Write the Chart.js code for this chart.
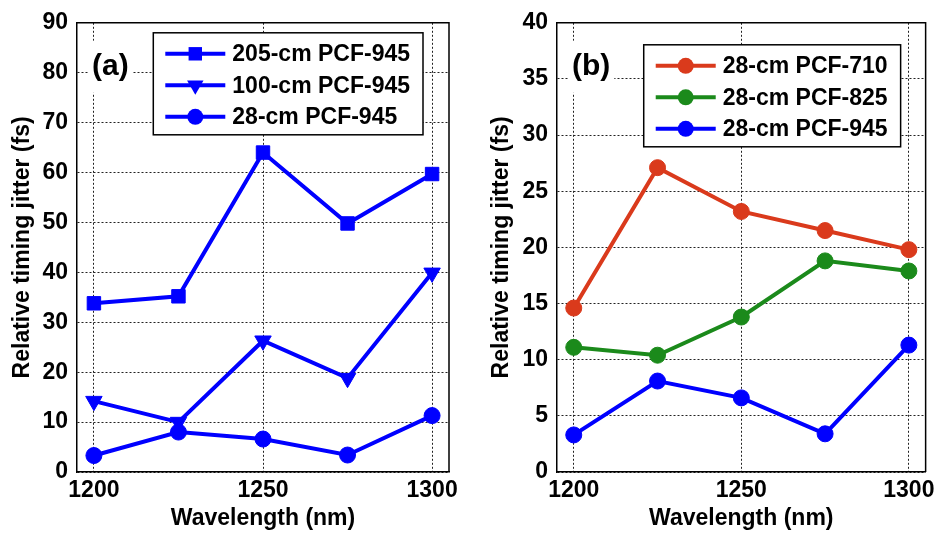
<!DOCTYPE html>
<html>
<head>
<meta charset="utf-8">
<script src="https://cdn.jsdelivr.net/npm/chart.js@4.4.1/dist/chart.umd.min.js"></script>
<style>
  html, body { margin: 0; padding: 0; background: #fff; }
  .wrap { position: relative; width: 940px; height: 536px; }
  canvas { position: absolute; top: 0; }
  #chartA { left: 0; }
  #chartB { left: 470px; }
</style>
</head>
<body>
<div class="wrap">
  <canvas id="chartA" width="470" height="536"></canvas>
  <canvas id="chartB" width="470" height="536"></canvas>
</div>
<script>
// ==================== ДАННЫЕ ====================
const wavelengths = [1200, 1225, 1250, 1275, 1300];
const xTicks = [1200, 1250, 1300];
const yTicksA = [0, 10, 20, 30, 40, 50, 60, 70, 80, 90];
const yTicksB = [0, 5, 10, 15, 20, 25, 30, 35, 40];

// panel (a)
const jitter205cm945 = [33.8, 35.2, 64.0, 49.8, 59.7];
const jitter100cm945 = [14.2, 10.0, 26.3, 18.8, 39.9];
const jitter28cm945 = [3.3, 8.0, 6.6, 3.4, 11.3];

// panel (b)
const jitter28cm710 = [14.6, 27.1, 23.2, 21.5, 19.8];
const jitter28cm825 = [11.1, 10.4, 13.8, 18.8, 17.9];
const jitter28cm945b = [3.3, 8.1, 6.6, 3.4, 11.3];

const FONT = 'Liberation Sans, Arial, Helvetica, sans-serif';
const BLUE = '#0000ff';
const RED = '#da3a1c';
const GREEN = '#1b8a1b';

function toPoints(values) {
    return wavelengths.map((w, i) => ({ x: w, y: values[i] }));
}

function series(label, values, color, pointStyle, radius, rotation) {
    return {
        label: label,
        data: toPoints(values),
        borderColor: color,
        backgroundColor: color,
        borderWidth: 4,
        pointStyle: pointStyle,
        pointRadius: radius,
        pointRotation: rotation || 0,
        pointBorderWidth: 1,
        pointBackgroundColor: color,
        pointBorderColor: color,
        tension: 0
    };
}

/**
 * Маркер для легенды (круг, квадрат, треугольник)
 */
function drawMarker(ctx, style, rotation, r, x, y) {
    ctx.beginPath();
    if (style === 'rect') {
        const s = Math.SQRT1_2 * r;
        ctx.rect(x - s, y - s, 2 * s, 2 * s);
    } else if (style === 'triangle') {
        let a = rotation * Math.PI / 180;
        for (let k = 0; k < 3; k++) {
            const px = x + Math.sin(a) * r;
            const py = y - Math.cos(a) * r;
            if (k === 0) ctx.moveTo(px, py); else ctx.lineTo(px, py);
            a += 2 * Math.PI / 3;
        }
        ctx.closePath();
    } else {
        ctx.arc(x, y, r, 0, Math.PI * 2);
    }
    ctx.fill();
}

// рамка, метка панели и легенда в поле графика
const panelDecor = {
    id: 'panelDecor',
    beforeDatasetsDraw(chart, args, opts) {
        const { ctx, chartArea: a } = chart;
        ctx.save();
        ctx.font = `bold 30px ${FONT}`;
        const tw = ctx.measureText(opts.tag).width;
        ctx.fillStyle = '#fff';
        ctx.fillRect(a.left + 11, a.top + 18, tw + 8, 52);
        ctx.fillStyle = '#000';
        ctx.textBaseline = 'middle';
        ctx.fillText(opts.tag, a.left + 15, a.top + 44);
        ctx.restore();
    },
    afterDatasetsDraw(chart, args, opts) {
        const { ctx, chartArea: a } = chart;
        const sets = chart.data.datasets;
        ctx.save();

        // верхняя и правая стороны рамки
        ctx.strokeStyle = '#000';
        ctx.lineWidth = 1.5;
        ctx.beginPath();
        ctx.moveTo(a.left, a.top);
        ctx.lineTo(a.right, a.top);
        ctx.lineTo(a.right, a.bottom);
        ctx.stroke();

        // легенда
        ctx.font = `bold 23px ${FONT}`;
        const textW = Math.max(...sets.map(s => ctx.measureText(s.label).width));
        const boxW = 12 + 60 + 7 + textW + 13;
        const boxH = 102;
        const bx = a.right - opts.legendRight - boxW;
        const by = a.top + opts.legendTop;
        ctx.fillStyle = '#fff';
        ctx.fillRect(bx, by, boxW, boxH);
        ctx.lineWidth = 1.5;
        ctx.strokeRect(bx, by, boxW, boxH);

        sets.forEach((s, i) => {
            const y = by + 21 + i * 31.5;
            ctx.strokeStyle = s.borderColor;
            ctx.lineWidth = s.borderWidth;
            ctx.beginPath();
            ctx.moveTo(bx + 12, y);
            ctx.lineTo(bx + 72, y);
            ctx.stroke();
            ctx.fillStyle = s.pointBackgroundColor;
            drawMarker(ctx, s.pointStyle, s.pointRotation, s.pointRadius, bx + 42, y);
            ctx.fillStyle = '#000';
            ctx.textBaseline = 'middle';
            ctx.fillText(s.label, bx + 79, y + 1);
        });
        ctx.restore();
    }
};

function makeChart(canvasId, datasets, yMax, yTicks, axisWidth, pad, titlePad, deco) {
    const ctx = document.getElementById(canvasId).getContext('2d');
    return new Chart(ctx, {
        type: 'line',
        data: { datasets: datasets },
        plugins: [panelDecor],
        options: {
            responsive: false,
            animation: false,
            layout: { padding: pad },
            plugins: {
                legend: { display: false },
                tooltip: { enabled: false },
                panelDecor: deco
            },
            scales: {
                x: {
                    type: 'linear',
                    min: 1195,
                    max: 1305,
                    afterBuildTicks: s => { s.ticks = xTicks.map(v => ({ value: v })); },
                    afterFit: s => { s.height = 64; },
                    grid: { color: '#222', lineWidth: 1, drawTicks: false },
                    border: { color: '#000', width: 1.5, dash: [2, 2] },
                    ticks: {
                        color: '#000',
                        padding: 5,
                        maxRotation: 0,
                        callback: v => String(v),
                        font: { family: FONT, size: 23, weight: 'bold' }
                    },
                    title: {
                        display: true,
                        text: 'Wavelength (nm)',
                        color: '#000',
                        padding: { top: 0, bottom: 4 },
                        font: { family: FONT, size: 23, weight: 'bold' }
                    }
                },
                y: {
                    type: 'linear',
                    min: 0,
                    max: yMax,
                    afterBuildTicks: s => { s.ticks = yTicks.map(v => ({ value: v })); },
                    afterFit: s => { s.width = axisWidth; },
                    grid: { color: '#222', lineWidth: 1, drawTicks: false },
                    border: { color: '#000', width: 1.5, dash: [2, 2] },
                    ticks: {
                        color: '#000',
                        padding: 9,
                        callback: v => String(v),
                        font: { family: FONT, size: 23, weight: 'bold' }
                    },
                    title: {
                        display: true,
                        text: 'Relative timing jitter (fs)',
                        color: '#000',
                        padding: { top: titlePad, bottom: 0 },
                        font: { family: FONT, size: 23, weight: 'bold' }
                    }
                }
            }
        }
    });
}

makeChart('chartA', [
    series('205-cm PCF-945', jitter205cm945, BLUE, 'rect', 9.5),
    series('100-cm PCF-945', jitter100cm945, BLUE, 'triangle', 9.5, 180),
    series('28-cm PCF-945', jitter28cm945, BLUE, 'circle', 8)
], 90, yTicksA, 77, { top: 18, right: 21, bottom: 0, left: 0 }, 9,
   { tag: '(a)', legendTop: 10, legendRight: 26 });

makeChart('chartB', [
    series('28-cm PCF-710', jitter28cm710, RED, 'circle', 8),
    series('28-cm PCF-825', jitter28cm825, GREEN, 'circle', 8),
    series('28-cm PCF-945', jitter28cm945b, BLUE, 'circle', 8)
], 40, yTicksB, 87, { top: 18, right: 12, bottom: 0, left: 0 }, 18,
   { tag: '(b)', legendTop: 22, legendRight: 25 });
</script>
</body>
</html>
